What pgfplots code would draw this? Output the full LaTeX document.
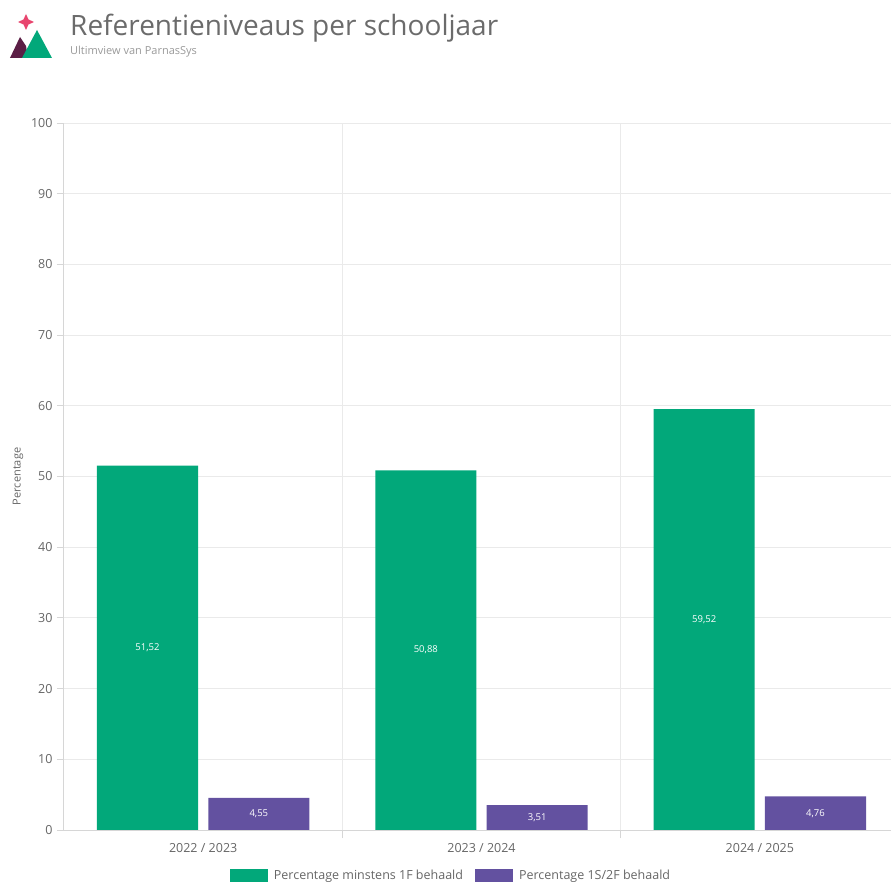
\documentclass[border=0pt]{standalone}
\usepackage{fontspec}
\setmainfont{Open Sans}
\usepackage{pgfplots}
\pgfplotsset{compat=1.18}

\definecolor{barGreen}{HTML}{02A87A}
\definecolor{barPurple}{HTML}{6351A0}
\definecolor{logoPink}{HTML}{E8456E}
\definecolor{logoDark}{HTML}{5B1E45}
\definecolor{gridGrey}{HTML}{EAEAEA}
\definecolor{axisGrey}{HTML}{D6D6D6}
\definecolor{txtGrey}{HTML}{666666}

\begin{document}
\begin{tikzpicture}
% page: 891 x 883 px, axis box lower left at page pixel (64,830)
\useasboundingbox (-64bp,-53bp) rectangle (827bp,830bp);

% logo
\fill[logoPink] (-38bp,816bp) -- (-35.5bp,810.5bp) -- (-30bp,808bp) -- (-35.5bp,805.5bp)
  -- (-38bp,800bp) -- (-40.5bp,805.5bp) -- (-46bp,808bp) -- (-40.5bp,810.5bp) -- cycle;
\fill[logoDark] (-54bp,772bp) -- (-44bp,793bp) -- (-38bp,784bp) -- (-36bp,772bp) -- cycle;
\fill[barGreen] (-42bp,772bp) -- (-27bp,800bp) -- (-12bp,772bp) -- cycle;

% title
\node[anchor=base west, inner sep=0pt, text=black!58,
  font=\fontsize{28bp}{32bp}\selectfont] at (6bp,794bp) {Referentieniveaus per schooljaar};
\node[anchor=base west, inner sep=0pt, text=black!40,
  font=\fontsize{11bp}{13bp}\selectfont] at (6bp,775bp) {Ultimview van ParnasSys};

\begin{axis}[
    at={(0,0)}, anchor=south west,
    scale only axis,
    width=835bp, height=707bp,
    ybar,
    bar width=0.363,
    xmin=-0.5, xmax=2.5,
    ymin=0, ymax=100,
    xtick={0,1,2},
    xticklabels={2022 / 2023, 2023 / 2024, 2024 / 2025},
    minor xtick={0.5,1.5},
    ytick={0,10,...,100},
    axis x line*=bottom,
    axis y line*=left,
    axis line style={axisGrey, line width=1bp},
    ymajorgrids, xminorgrids,
    grid style={gridGrey, line width=0.8bp},
    minor grid style={gridGrey, line width=0.8bp},
    tick align=outside,
    major tick length=7bp,
    minor tick length=8bp,
    every tick/.style={axisGrey, line width=0.8bp},
    x tick style={draw=none},
    minor x tick style={draw=axisGrey},
    tick label style={text=txtGrey, font=\fontsize{12.5bp}{14bp}\selectfont},
    /pgf/number format/assume math mode=true,
    xticklabel style={yshift=-3bp},
    yticklabel style={xshift=-1bp},
    ylabel={Percentage},
    every axis y label/.style={at={(axis description cs:0,0.5)}, xshift=-46bp,
      rotate=90, anchor=center, text=txtGrey, font=\fontsize{11bp}{13bp}\selectfont},
    legend columns=2,
    legend style={at={(389bp,-45bp)}, anchor=center, draw=none, fill=none,
      text=txtGrey, font=\fontsize{12.5bp}{14bp}\selectfont,
      nodes={inner xsep=6bp},
      /tikz/every even column/.append style={column sep=6bp}},
    legend image code/.code={\fill[#1] (0bp,-6.5bp) rectangle (38bp,6.5bp);},
    visualization depends on={rawy \as \rawy},
    nodes near coords,
    every node near coord/.append style={anchor=center, text=white,
      font=\fontsize{9.5bp}{11bp}\selectfont, yshift=-\rawy*3.535bp},
    nodes near coords style={/pgf/number format/.cd, fixed, fixed zerofill,
      precision=2, use comma, assume math mode=true},
]
\addplot[fill=barGreen, draw=none, bar shift=-0.2] coordinates {(0,51.52) (1,50.88) (2,59.52)};
\addplot[fill=barPurple, draw=none, bar shift=0.2] coordinates {(0,4.55) (1,3.51) (2,4.76)};
\legend{Percentage minstens 1F behaald, Percentage 1S/2F behaald}
\end{axis}
\end{tikzpicture}
\end{document}
